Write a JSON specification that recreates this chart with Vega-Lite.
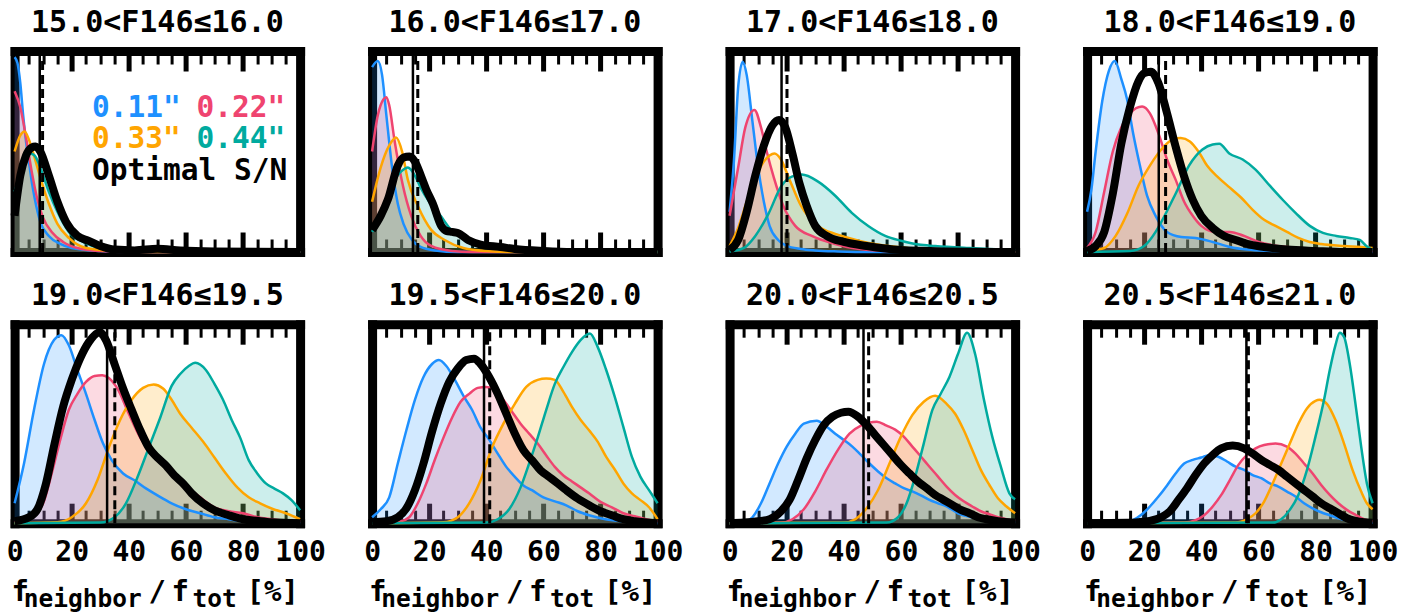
{
"$schema": "https://vega.github.io/schema/vega-lite/v6.json",
"padding": {"left": 5.6, "top": 7, "right": 5, "bottom": 5},
"columns": 4,
"spacing": {"row": 72.2, "column": 71.5},
"bounds": "flush",
"datasets": {
"stats": [
{"panel":1,"stat":"median","x":8.8},{"panel":1,"stat":"mean","x":9.8},
{"panel":2,"stat":"median","x":14.3},{"panel":2,"stat":"mean","x":16.0},
{"panel":3,"stat":"median","x":18.2},{"panel":3,"stat":"mean","x":20.1},
{"panel":4,"stat":"median","x":25.1},{"panel":4,"stat":"mean","x":27.5},
{"panel":5,"stat":"median","x":32.4},{"panel":5,"stat":"mean","x":35.1},
{"panel":6,"stat":"median","x":39.2},{"panel":6,"stat":"mean","x":41.2},
{"panel":7,"stat":"median","x":46.9},{"panel":7,"stat":"mean","x":48.7},
{"panel":8,"stat":"median","x":55.8},{"panel":8,"stat":"mean","x":56.5}
],
"kde": [
{"panel":1,"series":"0.11\"","x":0,"y":0.97},{"panel":1,"series":"0.11\"","x":1,"y":0.94},{"panel":1,"series":"0.11\"","x":2,"y":0.84},{"panel":1,"series":"0.11\"","x":3,"y":0.68},{"panel":1,"series":"0.11\"","x":4,"y":0.55},{"panel":1,"series":"0.11\"","x":5,"y":0.45},{"panel":1,"series":"0.11\"","x":6,"y":0.35},{"panel":1,"series":"0.11\"","x":7,"y":0.27},{"panel":1,"series":"0.11\"","x":9,"y":0.15},{"panel":1,"series":"0.11\"","x":12,"y":0.08},{"panel":1,"series":"0.11\"","x":16,"y":0.04},{"panel":1,"series":"0.11\"","x":20,"y":0.02},{"panel":1,"series":"0.11\"","x":30,"y":0.005},{"panel":1,"series":"0.11\"","x":40,"y":0},{"panel":1,"series":"0.11\"","x":100,"y":0},
{"panel":1,"series":"0.22\"","x":0,"y":0.8},{"panel":1,"series":"0.22\"","x":2,"y":0.72},{"panel":1,"series":"0.22\"","x":4,"y":0.57},{"panel":1,"series":"0.22\"","x":6,"y":0.4},{"panel":1,"series":"0.22\"","x":8,"y":0.26},{"panel":1,"series":"0.22\"","x":10,"y":0.17},{"panel":1,"series":"0.22\"","x":13,"y":0.1},{"panel":1,"series":"0.22\"","x":17,"y":0.05},{"panel":1,"series":"0.22\"","x":22,"y":0.02},{"panel":1,"series":"0.22\"","x":30,"y":0.005},{"panel":1,"series":"0.22\"","x":40,"y":0},{"panel":1,"series":"0.22\"","x":100,"y":0},
{"panel":1,"series":"0.33\"","x":0,"y":0.5},{"panel":1,"series":"0.33\"","x":2,"y":0.58},{"panel":1,"series":"0.33\"","x":3.5,"y":0.6},{"panel":1,"series":"0.33\"","x":5,"y":0.56},{"panel":1,"series":"0.33\"","x":7,"y":0.47},{"panel":1,"series":"0.33\"","x":9,"y":0.37},{"panel":1,"series":"0.33\"","x":12,"y":0.24},{"panel":1,"series":"0.33\"","x":15,"y":0.14},{"panel":1,"series":"0.33\"","x":19,"y":0.07},{"panel":1,"series":"0.33\"","x":25,"y":0.02},{"panel":1,"series":"0.33\"","x":35,"y":0.005},{"panel":1,"series":"0.33\"","x":45,"y":0},{"panel":1,"series":"0.33\"","x":100,"y":0},
{"panel":1,"series":"0.44\"","x":0,"y":0.3},{"panel":1,"series":"0.44\"","x":3,"y":0.42},{"panel":1,"series":"0.44\"","x":5.5,"y":0.49},{"panel":1,"series":"0.44\"","x":7,"y":0.48},{"panel":1,"series":"0.44\"","x":9,"y":0.42},{"panel":1,"series":"0.44\"","x":12,"y":0.3},{"panel":1,"series":"0.44\"","x":15,"y":0.2},{"panel":1,"series":"0.44\"","x":19,"y":0.1},{"panel":1,"series":"0.44\"","x":24,"y":0.05},{"panel":1,"series":"0.44\"","x":30,"y":0.02},{"panel":1,"series":"0.44\"","x":40,"y":0.006},{"panel":1,"series":"0.44\"","x":46,"y":0.008},{"panel":1,"series":"0.44\"","x":50,"y":0.012},{"panel":1,"series":"0.44\"","x":55,"y":0.008},{"panel":1,"series":"0.44\"","x":62,"y":0.002},{"panel":1,"series":"0.44\"","x":70,"y":0},{"panel":1,"series":"0.44\"","x":100,"y":0},
{"panel":1,"series":"Optimal S/N","x":0,"y":0.18},{"panel":1,"series":"Optimal S/N","x":2,"y":0.38},{"panel":1,"series":"Optimal S/N","x":4,"y":0.48},{"panel":1,"series":"Optimal S/N","x":6,"y":0.52},{"panel":1,"series":"Optimal S/N","x":7.3,"y":0.525},{"panel":1,"series":"Optimal S/N","x":9,"y":0.5},{"panel":1,"series":"Optimal S/N","x":12,"y":0.38},{"panel":1,"series":"Optimal S/N","x":15,"y":0.25},{"panel":1,"series":"Optimal S/N","x":18,"y":0.15},{"panel":1,"series":"Optimal S/N","x":22,"y":0.08},{"panel":1,"series":"Optimal S/N","x":26,"y":0.055},{"panel":1,"series":"Optimal S/N","x":30,"y":0.03},{"panel":1,"series":"Optimal S/N","x":35,"y":0.012},{"panel":1,"series":"Optimal S/N","x":42,"y":0.008},{"panel":1,"series":"Optimal S/N","x":50,"y":0.016},{"panel":1,"series":"Optimal S/N","x":58,"y":0.008},{"panel":1,"series":"Optimal S/N","x":70,"y":0.003},{"panel":1,"series":"Optimal S/N","x":100,"y":0},
{"panel":2,"series":"0.11\"","x":0,"y":0.92},{"panel":2,"series":"0.11\"","x":2,"y":0.95},{"panel":2,"series":"0.11\"","x":3.5,"y":0.88},{"panel":2,"series":"0.11\"","x":5,"y":0.68},{"panel":2,"series":"0.11\"","x":7,"y":0.42},{"panel":2,"series":"0.11\"","x":9,"y":0.24},{"panel":2,"series":"0.11\"","x":11,"y":0.14},{"panel":2,"series":"0.11\"","x":14,"y":0.06},{"panel":2,"series":"0.11\"","x":17,"y":0.025},{"panel":2,"series":"0.11\"","x":22,"y":0.008},{"panel":2,"series":"0.11\"","x":30,"y":0},{"panel":2,"series":"0.11\"","x":100,"y":0},
{"panel":2,"series":"0.22\"","x":0,"y":0.5},{"panel":2,"series":"0.22\"","x":2,"y":0.68},{"panel":2,"series":"0.22\"","x":4,"y":0.76},{"panel":2,"series":"0.22\"","x":5,"y":0.77},{"panel":2,"series":"0.22\"","x":6,"y":0.73},{"panel":2,"series":"0.22\"","x":7.8,"y":0.56},{"panel":2,"series":"0.22\"","x":10.8,"y":0.33},{"panel":2,"series":"0.22\"","x":13.7,"y":0.18},{"panel":2,"series":"0.22\"","x":17,"y":0.08},{"panel":2,"series":"0.22\"","x":20.7,"y":0.03},{"panel":2,"series":"0.22\"","x":28,"y":0.005},{"panel":2,"series":"0.22\"","x":35,"y":0},{"panel":2,"series":"0.22\"","x":100,"y":0},
{"panel":2,"series":"0.33\"","x":0,"y":0.25},{"panel":2,"series":"0.33\"","x":3,"y":0.42},{"panel":2,"series":"0.33\"","x":6,"y":0.53},{"panel":2,"series":"0.33\"","x":8.4,"y":0.57},{"panel":2,"series":"0.33\"","x":10.5,"y":0.5},{"panel":2,"series":"0.33\"","x":12.5,"y":0.36},{"panel":2,"series":"0.33\"","x":16,"y":0.23},{"panel":2,"series":"0.33\"","x":20.7,"y":0.11},{"panel":2,"series":"0.33\"","x":25.4,"y":0.06},{"panel":2,"series":"0.33\"","x":32,"y":0.02},{"panel":2,"series":"0.33\"","x":40,"y":0.005},{"panel":2,"series":"0.33\"","x":50,"y":0},{"panel":2,"series":"0.33\"","x":100,"y":0},
{"panel":2,"series":"0.44\"","x":0,"y":0.1},{"panel":2,"series":"0.44\"","x":4,"y":0.22},{"panel":2,"series":"0.44\"","x":8,"y":0.36},{"panel":2,"series":"0.44\"","x":11,"y":0.41},{"panel":2,"series":"0.44\"","x":12.5,"y":0.42},{"panel":2,"series":"0.44\"","x":15,"y":0.38},{"panel":2,"series":"0.44\"","x":17,"y":0.32},{"panel":2,"series":"0.44\"","x":20,"y":0.25},{"panel":2,"series":"0.44\"","x":24,"y":0.18},{"panel":2,"series":"0.44\"","x":27.7,"y":0.11},{"panel":2,"series":"0.44\"","x":32,"y":0.07},{"panel":2,"series":"0.44\"","x":36,"y":0.045},{"panel":2,"series":"0.44\"","x":42,"y":0.03},{"panel":2,"series":"0.44\"","x":47.6,"y":0.015},{"panel":2,"series":"0.44\"","x":55,"y":0.005},{"panel":2,"series":"0.44\"","x":65,"y":0},{"panel":2,"series":"0.44\"","x":100,"y":0},
{"panel":2,"series":"Optimal S/N","x":0,"y":0.11},{"panel":2,"series":"Optimal S/N","x":3,"y":0.18},{"panel":2,"series":"Optimal S/N","x":5.5,"y":0.26},{"panel":2,"series":"Optimal S/N","x":9,"y":0.43},{"panel":2,"series":"Optimal S/N","x":11,"y":0.47},{"panel":2,"series":"Optimal S/N","x":13.1,"y":0.475},{"panel":2,"series":"Optimal S/N","x":15,"y":0.45},{"panel":2,"series":"Optimal S/N","x":17.2,"y":0.376},{"panel":2,"series":"Optimal S/N","x":19,"y":0.31},{"panel":2,"series":"Optimal S/N","x":21.3,"y":0.24},{"panel":2,"series":"Optimal S/N","x":24.2,"y":0.13},{"panel":2,"series":"Optimal S/N","x":26,"y":0.105},{"panel":2,"series":"Optimal S/N","x":28,"y":0.1},{"panel":2,"series":"Optimal S/N","x":30,"y":0.095},{"panel":2,"series":"Optimal S/N","x":33.6,"y":0.06},{"panel":2,"series":"Optimal S/N","x":38,"y":0.037},{"panel":2,"series":"Optimal S/N","x":45,"y":0.025},{"panel":2,"series":"Optimal S/N","x":50,"y":0.015},{"panel":2,"series":"Optimal S/N","x":60,"y":0.005},{"panel":2,"series":"Optimal S/N","x":70,"y":0},{"panel":2,"series":"Optimal S/N","x":100,"y":0},
{"panel":3,"series":"0.11\"","x":0,"y":0.2},{"panel":3,"series":"0.11\"","x":1.5,"y":0.45},{"panel":3,"series":"0.11\"","x":3,"y":0.82},{"panel":3,"series":"0.11\"","x":4.6,"y":0.947},{"panel":3,"series":"0.11\"","x":6,"y":0.88},{"panel":3,"series":"0.11\"","x":8,"y":0.65},{"panel":3,"series":"0.11\"","x":10,"y":0.42},{"panel":3,"series":"0.11\"","x":12,"y":0.25},{"panel":3,"series":"0.11\"","x":14,"y":0.13},{"panel":3,"series":"0.11\"","x":17,"y":0.06},{"panel":3,"series":"0.11\"","x":20,"y":0.03},{"panel":3,"series":"0.11\"","x":25,"y":0.015},{"panel":3,"series":"0.11\"","x":30,"y":0.008},{"panel":3,"series":"0.11\"","x":38,"y":0.003},{"panel":3,"series":"0.11\"","x":50,"y":0},{"panel":3,"series":"0.11\"","x":100,"y":0},
{"panel":3,"series":"0.22\"","x":0,"y":0.18},{"panel":3,"series":"0.22\"","x":3,"y":0.42},{"panel":3,"series":"0.22\"","x":5.5,"y":0.62},{"panel":3,"series":"0.22\"","x":8.7,"y":0.707},{"panel":3,"series":"0.22\"","x":11,"y":0.62},{"panel":3,"series":"0.22\"","x":13,"y":0.5},{"panel":3,"series":"0.22\"","x":15.5,"y":0.37},{"panel":3,"series":"0.22\"","x":18.8,"y":0.23},{"panel":3,"series":"0.22\"","x":23,"y":0.13},{"panel":3,"series":"0.22\"","x":28.8,"y":0.08},{"panel":3,"series":"0.22\"","x":37,"y":0.04},{"panel":3,"series":"0.22\"","x":43,"y":0.02},{"panel":3,"series":"0.22\"","x":55,"y":0.005},{"panel":3,"series":"0.22\"","x":65,"y":0},{"panel":3,"series":"0.22\"","x":100,"y":0},
{"panel":3,"series":"0.33\"","x":0,"y":0.03},{"panel":3,"series":"0.33\"","x":3,"y":0.12},{"panel":3,"series":"0.33\"","x":6,"y":0.25},{"panel":3,"series":"0.33\"","x":9,"y":0.37},{"panel":3,"series":"0.33\"","x":12,"y":0.45},{"panel":3,"series":"0.33\"","x":14,"y":0.48},{"panel":3,"series":"0.33\"","x":15.7,"y":0.49},{"panel":3,"series":"0.33\"","x":18,"y":0.46},{"panel":3,"series":"0.33\"","x":21,"y":0.36},{"panel":3,"series":"0.33\"","x":25,"y":0.23},{"panel":3,"series":"0.33\"","x":31,"y":0.13},{"panel":3,"series":"0.33\"","x":37,"y":0.09},{"panel":3,"series":"0.33\"","x":40.5,"y":0.075},{"panel":3,"series":"0.33\"","x":48.7,"y":0.045},{"panel":3,"series":"0.33\"","x":55.7,"y":0.03},{"panel":3,"series":"0.33\"","x":66,"y":0.015},{"panel":3,"series":"0.33\"","x":80,"y":0.005},{"panel":3,"series":"0.33\"","x":100,"y":0},
{"panel":3,"series":"0.44\"","x":0,"y":0.002},{"panel":3,"series":"0.44\"","x":5,"y":0.02},{"panel":3,"series":"0.44\"","x":9,"y":0.08},{"panel":3,"series":"0.44\"","x":13.6,"y":0.19},{"panel":3,"series":"0.44\"","x":18.2,"y":0.33},{"panel":3,"series":"0.44\"","x":21.8,"y":0.375},{"panel":3,"series":"0.44\"","x":25.3,"y":0.385},{"panel":3,"series":"0.44\"","x":31,"y":0.35},{"panel":3,"series":"0.44\"","x":37,"y":0.28},{"panel":3,"series":"0.44\"","x":42.8,"y":0.195},{"panel":3,"series":"0.44\"","x":48.7,"y":0.128},{"panel":3,"series":"0.44\"","x":54.5,"y":0.08},{"panel":3,"series":"0.44\"","x":60.4,"y":0.055},{"panel":3,"series":"0.44\"","x":66.2,"y":0.037},{"panel":3,"series":"0.44\"","x":72,"y":0.03},{"panel":3,"series":"0.44\"","x":83.7,"y":0.02},{"panel":3,"series":"0.44\"","x":95.4,"y":0.012},{"panel":3,"series":"0.44\"","x":100,"y":0.01},
{"panel":3,"series":"Optimal S/N","x":0,"y":0.01},{"panel":3,"series":"Optimal S/N","x":3,"y":0.06},{"panel":3,"series":"Optimal S/N","x":6,"y":0.2},{"panel":3,"series":"Optimal S/N","x":9,"y":0.38},{"panel":3,"series":"Optimal S/N","x":12,"y":0.53},{"panel":3,"series":"Optimal S/N","x":15,"y":0.63},{"panel":3,"series":"Optimal S/N","x":17.3,"y":0.657},{"panel":3,"series":"Optimal S/N","x":19.5,"y":0.62},{"panel":3,"series":"Optimal S/N","x":22,"y":0.49},{"panel":3,"series":"Optimal S/N","x":24.5,"y":0.34},{"panel":3,"series":"Optimal S/N","x":27,"y":0.23},{"panel":3,"series":"Optimal S/N","x":30,"y":0.13},{"panel":3,"series":"Optimal S/N","x":34,"y":0.08},{"panel":3,"series":"Optimal S/N","x":40,"y":0.05},{"panel":3,"series":"Optimal S/N","x":48,"y":0.03},{"panel":3,"series":"Optimal S/N","x":60,"y":0.01},{"panel":3,"series":"Optimal S/N","x":75,"y":0.003},{"panel":3,"series":"Optimal S/N","x":100,"y":0},
{"panel":4,"series":"0.11\"","x":0,"y":0.2},{"panel":4,"series":"0.11\"","x":1.5,"y":0.31},{"panel":4,"series":"0.11\"","x":3,"y":0.5},{"panel":4,"series":"0.11\"","x":5.3,"y":0.75},{"panel":4,"series":"0.11\"","x":7.6,"y":0.9},{"panel":4,"series":"0.11\"","x":9.7,"y":0.95},{"panel":4,"series":"0.11\"","x":12,"y":0.86},{"panel":4,"series":"0.11\"","x":14,"y":0.76},{"panel":4,"series":"0.11\"","x":16,"y":0.6},{"panel":4,"series":"0.11\"","x":18.5,"y":0.43},{"panel":4,"series":"0.11\"","x":21,"y":0.28},{"panel":4,"series":"0.11\"","x":24,"y":0.18},{"panel":4,"series":"0.11\"","x":28,"y":0.1},{"panel":4,"series":"0.11\"","x":33,"y":0.075},{"panel":4,"series":"0.11\"","x":38,"y":0.07},{"panel":4,"series":"0.11\"","x":44,"y":0.05},{"panel":4,"series":"0.11\"","x":50,"y":0.025},{"panel":4,"series":"0.11\"","x":56,"y":0.012},{"panel":4,"series":"0.11\"","x":65,"y":0.005},{"panel":4,"series":"0.11\"","x":80,"y":0},{"panel":4,"series":"0.11\"","x":100,"y":0},
{"panel":4,"series":"0.22\"","x":0,"y":0.02},{"panel":4,"series":"0.22\"","x":3,"y":0.1},{"panel":4,"series":"0.22\"","x":6,"y":0.3},{"panel":4,"series":"0.22\"","x":9,"y":0.5},{"panel":4,"series":"0.22\"","x":12,"y":0.62},{"panel":4,"series":"0.22\"","x":15,"y":0.69},{"panel":4,"series":"0.22\"","x":19.3,"y":0.724},{"panel":4,"series":"0.22\"","x":22,"y":0.69},{"panel":4,"series":"0.22\"","x":25,"y":0.59},{"panel":4,"series":"0.22\"","x":28,"y":0.46},{"panel":4,"series":"0.22\"","x":31,"y":0.36},{"panel":4,"series":"0.22\"","x":34,"y":0.25},{"panel":4,"series":"0.22\"","x":37,"y":0.18},{"panel":4,"series":"0.22\"","x":40,"y":0.13},{"panel":4,"series":"0.22\"","x":45,"y":0.1},{"panel":4,"series":"0.22\"","x":50,"y":0.1},{"panel":4,"series":"0.22\"","x":55,"y":0.08},{"panel":4,"series":"0.22\"","x":60,"y":0.05},{"panel":4,"series":"0.22\"","x":70,"y":0.025},{"panel":4,"series":"0.22\"","x":80,"y":0.015},{"panel":4,"series":"0.22\"","x":90,"y":0.01},{"panel":4,"series":"0.22\"","x":100,"y":0.005},
{"panel":4,"series":"0.33\"","x":0,"y":0.005},{"panel":4,"series":"0.33\"","x":6,"y":0.02},{"panel":4,"series":"0.33\"","x":10,"y":0.08},{"panel":4,"series":"0.33\"","x":14,"y":0.19},{"panel":4,"series":"0.33\"","x":18,"y":0.33},{"panel":4,"series":"0.33\"","x":22,"y":0.43},{"panel":4,"series":"0.33\"","x":26,"y":0.51},{"panel":4,"series":"0.33\"","x":30,"y":0.56},{"panel":4,"series":"0.33\"","x":32.8,"y":0.567},{"panel":4,"series":"0.33\"","x":36,"y":0.55},{"panel":4,"series":"0.33\"","x":39,"y":0.5},{"panel":4,"series":"0.33\"","x":42,"y":0.43},{"panel":4,"series":"0.33\"","x":46,"y":0.37},{"panel":4,"series":"0.33\"","x":50,"y":0.32},{"panel":4,"series":"0.33\"","x":54,"y":0.27},{"panel":4,"series":"0.33\"","x":58,"y":0.21},{"panel":4,"series":"0.33\"","x":62,"y":0.16},{"panel":4,"series":"0.33\"","x":66,"y":0.13},{"panel":4,"series":"0.33\"","x":70,"y":0.1},{"panel":4,"series":"0.33\"","x":74,"y":0.07},{"panel":4,"series":"0.33\"","x":78,"y":0.05},{"panel":4,"series":"0.33\"","x":82,"y":0.04},{"panel":4,"series":"0.33\"","x":90,"y":0.03},{"panel":4,"series":"0.33\"","x":96,"y":0.025},{"panel":4,"series":"0.33\"","x":100,"y":0.02},
{"panel":4,"series":"0.44\"","x":0,"y":0},{"panel":4,"series":"0.44\"","x":15,"y":0.005},{"panel":4,"series":"0.44\"","x":20,"y":0.03},{"panel":4,"series":"0.44\"","x":24,"y":0.1},{"panel":4,"series":"0.44\"","x":26.4,"y":0.16},{"panel":4,"series":"0.44\"","x":31,"y":0.29},{"panel":4,"series":"0.44\"","x":35.7,"y":0.43},{"panel":4,"series":"0.44\"","x":40.4,"y":0.51},{"panel":4,"series":"0.44\"","x":44,"y":0.535},{"panel":4,"series":"0.44\"","x":46.3,"y":0.538},{"panel":4,"series":"0.44\"","x":49.8,"y":0.49},{"panel":4,"series":"0.44\"","x":54.5,"y":0.46},{"panel":4,"series":"0.44\"","x":59,"y":0.41},{"panel":4,"series":"0.44\"","x":64,"y":0.33},{"panel":4,"series":"0.44\"","x":68.5,"y":0.26},{"panel":4,"series":"0.44\"","x":73,"y":0.195},{"panel":4,"series":"0.44\"","x":78,"y":0.13},{"panel":4,"series":"0.44\"","x":82.6,"y":0.095},{"panel":4,"series":"0.44\"","x":87.3,"y":0.08},{"panel":4,"series":"0.44\"","x":92,"y":0.07},{"panel":4,"series":"0.44\"","x":95.5,"y":0.06},{"panel":4,"series":"0.44\"","x":97.8,"y":0.03},{"panel":4,"series":"0.44\"","x":100,"y":0.01},
{"panel":4,"series":"Optimal S/N","x":0,"y":0.005},{"panel":4,"series":"Optimal S/N","x":3,"y":0.03},{"panel":4,"series":"Optimal S/N","x":6,"y":0.1},{"panel":4,"series":"Optimal S/N","x":9,"y":0.29},{"panel":4,"series":"Optimal S/N","x":12,"y":0.54},{"panel":4,"series":"Optimal S/N","x":15,"y":0.72},{"panel":4,"series":"Optimal S/N","x":18,"y":0.85},{"panel":4,"series":"Optimal S/N","x":20,"y":0.89},{"panel":4,"series":"Optimal S/N","x":22.3,"y":0.897},{"panel":4,"series":"Optimal S/N","x":25,"y":0.84},{"panel":4,"series":"Optimal S/N","x":28,"y":0.69},{"panel":4,"series":"Optimal S/N","x":31,"y":0.525},{"panel":4,"series":"Optimal S/N","x":34,"y":0.376},{"panel":4,"series":"Optimal S/N","x":37,"y":0.26},{"panel":4,"series":"Optimal S/N","x":40,"y":0.18},{"panel":4,"series":"Optimal S/N","x":44,"y":0.12},{"panel":4,"series":"Optimal S/N","x":48,"y":0.08},{"panel":4,"series":"Optimal S/N","x":52,"y":0.06},{"panel":4,"series":"Optimal S/N","x":56,"y":0.04},{"panel":4,"series":"Optimal S/N","x":62,"y":0.025},{"panel":4,"series":"Optimal S/N","x":70,"y":0.012},{"panel":4,"series":"Optimal S/N","x":80,"y":0.005},{"panel":4,"series":"Optimal S/N","x":90,"y":0},{"panel":4,"series":"Optimal S/N","x":100,"y":0},
{"panel":5,"series":"0.11\"","x":0,"y":0.1},{"panel":5,"series":"0.11\"","x":3.3,"y":0.3},{"panel":5,"series":"0.11\"","x":6.8,"y":0.57},{"panel":5,"series":"0.11\"","x":10.3,"y":0.8},{"panel":5,"series":"0.11\"","x":13.8,"y":0.92},{"panel":5,"series":"0.11\"","x":16.4,"y":0.945},{"panel":5,"series":"0.11\"","x":19,"y":0.894},{"panel":5,"series":"0.11\"","x":22,"y":0.77},{"panel":5,"series":"0.11\"","x":25,"y":0.65},{"panel":5,"series":"0.11\"","x":28,"y":0.52},{"panel":5,"series":"0.11\"","x":31,"y":0.4},{"panel":5,"series":"0.11\"","x":34,"y":0.317},{"panel":5,"series":"0.11\"","x":38,"y":0.25},{"panel":5,"series":"0.11\"","x":42,"y":0.216},{"panel":5,"series":"0.11\"","x":46,"y":0.175},{"panel":5,"series":"0.11\"","x":50,"y":0.14},{"panel":5,"series":"0.11\"","x":55,"y":0.1},{"panel":5,"series":"0.11\"","x":60,"y":0.07},{"panel":5,"series":"0.11\"","x":65,"y":0.05},{"panel":5,"series":"0.11\"","x":70,"y":0.03},{"panel":5,"series":"0.11\"","x":75,"y":0.02},{"panel":5,"series":"0.11\"","x":80,"y":0.01},{"panel":5,"series":"0.11\"","x":90,"y":0.003},{"panel":5,"series":"0.11\"","x":100,"y":0},
{"panel":5,"series":"0.22\"","x":0,"y":0.003},{"panel":5,"series":"0.22\"","x":5,"y":0.02},{"panel":5,"series":"0.22\"","x":10,"y":0.1},{"panel":5,"series":"0.22\"","x":13,"y":0.25},{"panel":5,"series":"0.22\"","x":16,"y":0.42},{"panel":5,"series":"0.22\"","x":19,"y":0.57},{"panel":5,"series":"0.22\"","x":22,"y":0.65},{"panel":5,"series":"0.22\"","x":25,"y":0.71},{"panel":5,"series":"0.22\"","x":28,"y":0.74},{"panel":5,"series":"0.22\"","x":30.7,"y":0.744},{"panel":5,"series":"0.22\"","x":33,"y":0.73},{"panel":5,"series":"0.22\"","x":36,"y":0.677},{"panel":5,"series":"0.22\"","x":40,"y":0.55},{"panel":5,"series":"0.22\"","x":44,"y":0.43},{"panel":5,"series":"0.22\"","x":48,"y":0.35},{"panel":5,"series":"0.22\"","x":52,"y":0.3},{"panel":5,"series":"0.22\"","x":56,"y":0.25},{"panel":5,"series":"0.22\"","x":60,"y":0.19},{"panel":5,"series":"0.22\"","x":65,"y":0.13},{"panel":5,"series":"0.22\"","x":70,"y":0.08},{"panel":5,"series":"0.22\"","x":75,"y":0.06},{"panel":5,"series":"0.22\"","x":80,"y":0.05},{"panel":5,"series":"0.22\"","x":85,"y":0.03},{"panel":5,"series":"0.22\"","x":90,"y":0.02},{"panel":5,"series":"0.22\"","x":95,"y":0.012},{"panel":5,"series":"0.22\"","x":100,"y":0.008},
{"panel":5,"series":"0.33\"","x":0,"y":0},{"panel":5,"series":"0.33\"","x":15,"y":0.005},{"panel":5,"series":"0.33\"","x":20,"y":0.03},{"panel":5,"series":"0.33\"","x":25,"y":0.1},{"panel":5,"series":"0.33\"","x":29,"y":0.216},{"panel":5,"series":"0.33\"","x":33,"y":0.38},{"panel":5,"series":"0.33\"","x":37,"y":0.52},{"panel":5,"series":"0.33\"","x":41,"y":0.62},{"panel":5,"series":"0.33\"","x":45,"y":0.68},{"panel":5,"series":"0.33\"","x":48.7,"y":0.697},{"panel":5,"series":"0.33\"","x":52,"y":0.677},{"panel":5,"series":"0.33\"","x":55,"y":0.62},{"panel":5,"series":"0.33\"","x":58,"y":0.55},{"panel":5,"series":"0.33\"","x":62,"y":0.48},{"panel":5,"series":"0.33\"","x":66,"y":0.41},{"panel":5,"series":"0.33\"","x":70,"y":0.33},{"panel":5,"series":"0.33\"","x":74,"y":0.25},{"panel":5,"series":"0.33\"","x":78,"y":0.18},{"panel":5,"series":"0.33\"","x":82,"y":0.13},{"panel":5,"series":"0.33\"","x":86,"y":0.1},{"panel":5,"series":"0.33\"","x":90,"y":0.074},{"panel":5,"series":"0.33\"","x":95,"y":0.05},{"panel":5,"series":"0.33\"","x":100,"y":0.02},
{"panel":5,"series":"0.44\"","x":0,"y":0},{"panel":5,"series":"0.44\"","x":30,"y":0.003},{"panel":5,"series":"0.44\"","x":35,"y":0.03},{"panel":5,"series":"0.44\"","x":39,"y":0.1},{"panel":5,"series":"0.44\"","x":43,"y":0.23},{"panel":5,"series":"0.44\"","x":47,"y":0.38},{"panel":5,"series":"0.44\"","x":51,"y":0.53},{"panel":5,"series":"0.44\"","x":55,"y":0.69},{"panel":5,"series":"0.44\"","x":58,"y":0.75},{"panel":5,"series":"0.44\"","x":61,"y":0.79},{"panel":5,"series":"0.44\"","x":63.3,"y":0.806},{"panel":5,"series":"0.44\"","x":67,"y":0.77},{"panel":5,"series":"0.44\"","x":70,"y":0.7},{"panel":5,"series":"0.44\"","x":73,"y":0.62},{"panel":5,"series":"0.44\"","x":76,"y":0.52},{"panel":5,"series":"0.44\"","x":79,"y":0.43},{"panel":5,"series":"0.44\"","x":82,"y":0.317},{"panel":5,"series":"0.44\"","x":85,"y":0.25},{"panel":5,"series":"0.44\"","x":88,"y":0.2},{"panel":5,"series":"0.44\"","x":91,"y":0.174},{"panel":5,"series":"0.44\"","x":94,"y":0.15},{"panel":5,"series":"0.44\"","x":97,"y":0.116},{"panel":5,"series":"0.44\"","x":100,"y":0.065},
{"panel":5,"series":"Optimal S/N","x":0,"y":0.01},{"panel":5,"series":"Optimal S/N","x":5,"y":0.03},{"panel":5,"series":"Optimal S/N","x":8,"y":0.07},{"panel":5,"series":"Optimal S/N","x":11,"y":0.2},{"panel":5,"series":"Optimal S/N","x":14,"y":0.4},{"panel":5,"series":"Optimal S/N","x":17,"y":0.585},{"panel":5,"series":"Optimal S/N","x":20,"y":0.72},{"panel":5,"series":"Optimal S/N","x":23,"y":0.83},{"panel":5,"series":"Optimal S/N","x":26,"y":0.91},{"panel":5,"series":"Optimal S/N","x":29.8,"y":0.96},{"panel":5,"series":"Optimal S/N","x":32,"y":0.92},{"panel":5,"series":"Optimal S/N","x":35,"y":0.8},{"panel":5,"series":"Optimal S/N","x":38,"y":0.677},{"panel":5,"series":"Optimal S/N","x":41,"y":0.57},{"panel":5,"series":"Optimal S/N","x":44,"y":0.467},{"panel":5,"series":"Optimal S/N","x":47,"y":0.38},{"panel":5,"series":"Optimal S/N","x":50,"y":0.33},{"panel":5,"series":"Optimal S/N","x":53,"y":0.29},{"panel":5,"series":"Optimal S/N","x":56,"y":0.24},{"panel":5,"series":"Optimal S/N","x":59,"y":0.2},{"panel":5,"series":"Optimal S/N","x":62,"y":0.15},{"panel":5,"series":"Optimal S/N","x":66,"y":0.1},{"panel":5,"series":"Optimal S/N","x":70,"y":0.065},{"panel":5,"series":"Optimal S/N","x":75,"y":0.04},{"panel":5,"series":"Optimal S/N","x":80,"y":0.02},{"panel":5,"series":"Optimal S/N","x":85,"y":0.012},{"panel":5,"series":"Optimal S/N","x":90,"y":0.005},{"panel":5,"series":"Optimal S/N","x":100,"y":0},
{"panel":6,"series":"0.11\"","x":0,"y":0.03},{"panel":6,"series":"0.11\"","x":3,"y":0.07},{"panel":6,"series":"0.11\"","x":6,"y":0.13},{"panel":6,"series":"0.11\"","x":9,"y":0.3},{"panel":6,"series":"0.11\"","x":12,"y":0.467},{"panel":6,"series":"0.11\"","x":15,"y":0.62},{"panel":6,"series":"0.11\"","x":18,"y":0.735},{"panel":6,"series":"0.11\"","x":21,"y":0.8},{"panel":6,"series":"0.11\"","x":23.4,"y":0.82},{"panel":6,"series":"0.11\"","x":26,"y":0.79},{"panel":6,"series":"0.11\"","x":29,"y":0.72},{"panel":6,"series":"0.11\"","x":32,"y":0.64},{"panel":6,"series":"0.11\"","x":35,"y":0.57},{"panel":6,"series":"0.11\"","x":38,"y":0.48},{"panel":6,"series":"0.11\"","x":41,"y":0.42},{"panel":6,"series":"0.11\"","x":44,"y":0.35},{"panel":6,"series":"0.11\"","x":47,"y":0.283},{"panel":6,"series":"0.11\"","x":50,"y":0.233},{"panel":6,"series":"0.11\"","x":53,"y":0.19},{"panel":6,"series":"0.11\"","x":56,"y":0.166},{"panel":6,"series":"0.11\"","x":60,"y":0.13},{"panel":6,"series":"0.11\"","x":64,"y":0.11},{"panel":6,"series":"0.11\"","x":68,"y":0.09},{"panel":6,"series":"0.11\"","x":72,"y":0.06},{"panel":6,"series":"0.11\"","x":76,"y":0.04},{"panel":6,"series":"0.11\"","x":80,"y":0.025},{"panel":6,"series":"0.11\"","x":85,"y":0.013},{"panel":6,"series":"0.11\"","x":90,"y":0.006},{"panel":6,"series":"0.11\"","x":100,"y":0},
{"panel":6,"series":"0.22\"","x":0,"y":0},{"panel":6,"series":"0.22\"","x":10,"y":0.01},{"panel":6,"series":"0.22\"","x":13,"y":0.03},{"panel":6,"series":"0.22\"","x":16,"y":0.1},{"panel":6,"series":"0.22\"","x":19,"y":0.2},{"panel":6,"series":"0.22\"","x":22,"y":0.32},{"panel":6,"series":"0.22\"","x":25,"y":0.43},{"panel":6,"series":"0.22\"","x":28,"y":0.53},{"panel":6,"series":"0.22\"","x":31,"y":0.61},{"panel":6,"series":"0.22\"","x":34,"y":0.65},{"panel":6,"series":"0.22\"","x":37,"y":0.68},{"panel":6,"series":"0.22\"","x":40,"y":0.685},{"panel":6,"series":"0.22\"","x":43,"y":0.67},{"panel":6,"series":"0.22\"","x":46,"y":0.62},{"panel":6,"series":"0.22\"","x":49,"y":0.56},{"panel":6,"series":"0.22\"","x":52,"y":0.5},{"panel":6,"series":"0.22\"","x":55,"y":0.45},{"panel":6,"series":"0.22\"","x":58,"y":0.4},{"panel":6,"series":"0.22\"","x":61,"y":0.34},{"panel":6,"series":"0.22\"","x":64,"y":0.283},{"panel":6,"series":"0.22\"","x":67,"y":0.24},{"panel":6,"series":"0.22\"","x":70,"y":0.21},{"panel":6,"series":"0.22\"","x":73,"y":0.18},{"panel":6,"series":"0.22\"","x":76,"y":0.15},{"panel":6,"series":"0.22\"","x":80,"y":0.107},{"panel":6,"series":"0.22\"","x":84,"y":0.08},{"panel":6,"series":"0.22\"","x":88,"y":0.05},{"panel":6,"series":"0.22\"","x":92,"y":0.035},{"panel":6,"series":"0.22\"","x":96,"y":0.02},{"panel":6,"series":"0.22\"","x":100,"y":0.01},
{"panel":6,"series":"0.33\"","x":0,"y":0},{"panel":6,"series":"0.33\"","x":25,"y":0.005},{"panel":6,"series":"0.33\"","x":30,"y":0.03},{"panel":6,"series":"0.33\"","x":34,"y":0.1},{"panel":6,"series":"0.33\"","x":38,"y":0.216},{"panel":6,"series":"0.33\"","x":42,"y":0.38},{"panel":6,"series":"0.33\"","x":46,"y":0.5},{"panel":6,"series":"0.33\"","x":50,"y":0.6},{"panel":6,"series":"0.33\"","x":54,"y":0.685},{"panel":6,"series":"0.33\"","x":58,"y":0.72},{"panel":6,"series":"0.33\"","x":61,"y":0.727},{"panel":6,"series":"0.33\"","x":64,"y":0.72},{"panel":6,"series":"0.33\"","x":67,"y":0.66},{"panel":6,"series":"0.33\"","x":70,"y":0.585},{"panel":6,"series":"0.33\"","x":73,"y":0.52},{"panel":6,"series":"0.33\"","x":76,"y":0.467},{"panel":6,"series":"0.33\"","x":79,"y":0.41},{"panel":6,"series":"0.33\"","x":82,"y":0.333},{"panel":6,"series":"0.33\"","x":85,"y":0.27},{"panel":6,"series":"0.33\"","x":88,"y":0.2},{"panel":6,"series":"0.33\"","x":91,"y":0.15},{"panel":6,"series":"0.33\"","x":94,"y":0.116},{"panel":6,"series":"0.33\"","x":97,"y":0.08},{"panel":6,"series":"0.33\"","x":100,"y":0.02},
{"panel":6,"series":"0.44\"","x":0,"y":0},{"panel":6,"series":"0.44\"","x":40,"y":0.003},{"panel":6,"series":"0.44\"","x":44,"y":0.02},{"panel":6,"series":"0.44\"","x":48,"y":0.07},{"panel":6,"series":"0.44\"","x":52,"y":0.18},{"panel":6,"series":"0.44\"","x":55,"y":0.3},{"panel":6,"series":"0.44\"","x":58,"y":0.43},{"panel":6,"series":"0.44\"","x":61,"y":0.57},{"panel":6,"series":"0.44\"","x":64,"y":0.7},{"panel":6,"series":"0.44\"","x":67,"y":0.785},{"panel":6,"series":"0.44\"","x":70,"y":0.86},{"panel":6,"series":"0.44\"","x":73,"y":0.92},{"panel":6,"series":"0.44\"","x":76.3,"y":0.953},{"panel":6,"series":"0.44\"","x":79,"y":0.886},{"panel":6,"series":"0.44\"","x":82,"y":0.77},{"panel":6,"series":"0.44\"","x":85,"y":0.635},{"panel":6,"series":"0.44\"","x":88,"y":0.484},{"panel":6,"series":"0.44\"","x":91,"y":0.333},{"panel":6,"series":"0.44\"","x":94,"y":0.233},{"panel":6,"series":"0.44\"","x":97,"y":0.166},{"panel":6,"series":"0.44\"","x":100,"y":0.1},
{"panel":6,"series":"Optimal S/N","x":0,"y":0.005},{"panel":6,"series":"Optimal S/N","x":5,"y":0.01},{"panel":6,"series":"Optimal S/N","x":9,"y":0.03},{"panel":6,"series":"Optimal S/N","x":12,"y":0.074},{"panel":6,"series":"Optimal S/N","x":15,"y":0.166},{"panel":6,"series":"Optimal S/N","x":18,"y":0.3},{"panel":6,"series":"Optimal S/N","x":21,"y":0.46},{"panel":6,"series":"Optimal S/N","x":24,"y":0.6},{"panel":6,"series":"Optimal S/N","x":27,"y":0.71},{"panel":6,"series":"Optimal S/N","x":30,"y":0.777},{"panel":6,"series":"Optimal S/N","x":33,"y":0.82},{"panel":6,"series":"Optimal S/N","x":35.7,"y":0.827},{"panel":6,"series":"Optimal S/N","x":38,"y":0.8},{"panel":6,"series":"Optimal S/N","x":41,"y":0.735},{"panel":6,"series":"Optimal S/N","x":44,"y":0.65},{"panel":6,"series":"Optimal S/N","x":47,"y":0.55},{"panel":6,"series":"Optimal S/N","x":50,"y":0.45},{"panel":6,"series":"Optimal S/N","x":53,"y":0.367},{"panel":6,"series":"Optimal S/N","x":56,"y":0.317},{"panel":6,"series":"Optimal S/N","x":59,"y":0.266},{"panel":6,"series":"Optimal S/N","x":62,"y":0.233},{"panel":6,"series":"Optimal S/N","x":65,"y":0.2},{"panel":6,"series":"Optimal S/N","x":68,"y":0.166},{"panel":6,"series":"Optimal S/N","x":72,"y":0.124},{"panel":6,"series":"Optimal S/N","x":76,"y":0.09},{"panel":6,"series":"Optimal S/N","x":80,"y":0.06},{"panel":6,"series":"Optimal S/N","x":84,"y":0.04},{"panel":6,"series":"Optimal S/N","x":88,"y":0.02},{"panel":6,"series":"Optimal S/N","x":92,"y":0.01},{"panel":6,"series":"Optimal S/N","x":100,"y":0},
{"panel":7,"series":"0.11\"","x":0,"y":0},{"panel":7,"series":"0.11\"","x":5,"y":0.005},{"panel":7,"series":"0.11\"","x":8,"y":0.03},{"panel":7,"series":"0.11\"","x":11,"y":0.1},{"panel":7,"series":"0.11\"","x":14,"y":0.2},{"panel":7,"series":"0.11\"","x":17,"y":0.3},{"panel":7,"series":"0.11\"","x":20,"y":0.385},{"panel":7,"series":"0.11\"","x":23,"y":0.45},{"panel":7,"series":"0.11\"","x":26,"y":0.5},{"panel":7,"series":"0.11\"","x":30.5,"y":0.515},{"panel":7,"series":"0.11\"","x":34,"y":0.485},{"panel":7,"series":"0.11\"","x":37,"y":0.45},{"panel":7,"series":"0.11\"","x":40,"y":0.418},{"panel":7,"series":"0.11\"","x":43,"y":0.385},{"panel":7,"series":"0.11\"","x":46,"y":0.343},{"panel":7,"series":"0.11\"","x":49,"y":0.3},{"panel":7,"series":"0.11\"","x":52,"y":0.26},{"panel":7,"series":"0.11\"","x":55,"y":0.226},{"panel":7,"series":"0.11\"","x":58,"y":0.2},{"panel":7,"series":"0.11\"","x":61,"y":0.176},{"panel":7,"series":"0.11\"","x":64,"y":0.16},{"panel":7,"series":"0.11\"","x":67,"y":0.14},{"panel":7,"series":"0.11\"","x":70,"y":0.117},{"panel":7,"series":"0.11\"","x":73,"y":0.1},{"panel":7,"series":"0.11\"","x":76,"y":0.084},{"panel":7,"series":"0.11\"","x":80,"y":0.05},{"panel":7,"series":"0.11\"","x":85,"y":0.03},{"panel":7,"series":"0.11\"","x":90,"y":0.015},{"panel":7,"series":"0.11\"","x":95,"y":0.007},{"panel":7,"series":"0.11\"","x":100,"y":0.003},
{"panel":7,"series":"0.22\"","x":0,"y":0},{"panel":7,"series":"0.22\"","x":18,"y":0.003},{"panel":7,"series":"0.22\"","x":22,"y":0.02},{"panel":7,"series":"0.22\"","x":26,"y":0.07},{"panel":7,"series":"0.22\"","x":30,"y":0.16},{"panel":7,"series":"0.22\"","x":34,"y":0.27},{"panel":7,"series":"0.22\"","x":38,"y":0.37},{"panel":7,"series":"0.22\"","x":42,"y":0.45},{"panel":7,"series":"0.22\"","x":46,"y":0.49},{"panel":7,"series":"0.22\"","x":51.6,"y":0.51},{"panel":7,"series":"0.22\"","x":55,"y":0.49},{"panel":7,"series":"0.22\"","x":58,"y":0.47},{"panel":7,"series":"0.22\"","x":61,"y":0.435},{"panel":7,"series":"0.22\"","x":64,"y":0.385},{"panel":7,"series":"0.22\"","x":67,"y":0.335},{"panel":7,"series":"0.22\"","x":70,"y":0.284},{"panel":7,"series":"0.22\"","x":73,"y":0.234},{"panel":7,"series":"0.22\"","x":76,"y":0.184},{"panel":7,"series":"0.22\"","x":79,"y":0.142},{"panel":7,"series":"0.22\"","x":82,"y":0.11},{"panel":7,"series":"0.22\"","x":85,"y":0.084},{"panel":7,"series":"0.22\"","x":88,"y":0.06},{"panel":7,"series":"0.22\"","x":91,"y":0.045},{"panel":7,"series":"0.22\"","x":94,"y":0.03},{"panel":7,"series":"0.22\"","x":97,"y":0.02},{"panel":7,"series":"0.22\"","x":100,"y":0.012},
{"panel":7,"series":"0.33\"","x":0,"y":0},{"panel":7,"series":"0.33\"","x":40,"y":0.003},{"panel":7,"series":"0.33\"","x":44,"y":0.02},{"panel":7,"series":"0.33\"","x":48,"y":0.075},{"panel":7,"series":"0.33\"","x":52,"y":0.167},{"panel":7,"series":"0.33\"","x":56,"y":0.3},{"panel":7,"series":"0.33\"","x":60,"y":0.435},{"panel":7,"series":"0.33\"","x":64,"y":0.543},{"panel":7,"series":"0.33\"","x":68,"y":0.61},{"panel":7,"series":"0.33\"","x":72,"y":0.64},{"panel":7,"series":"0.33\"","x":76,"y":0.6},{"panel":7,"series":"0.33\"","x":79,"y":0.55},{"panel":7,"series":"0.33\"","x":82,"y":0.468},{"panel":7,"series":"0.33\"","x":85,"y":0.368},{"panel":7,"series":"0.33\"","x":88,"y":0.268},{"panel":7,"series":"0.33\"","x":91,"y":0.192},{"panel":7,"series":"0.33\"","x":94,"y":0.125},{"panel":7,"series":"0.33\"","x":97,"y":0.084},{"panel":7,"series":"0.33\"","x":100,"y":0.05},
{"panel":7,"series":"0.44\"","x":0,"y":0},{"panel":7,"series":"0.44\"","x":55,"y":0.003},{"panel":7,"series":"0.44\"","x":59,"y":0.03},{"panel":7,"series":"0.44\"","x":62,"y":0.1},{"panel":7,"series":"0.44\"","x":65,"y":0.234},{"panel":7,"series":"0.44\"","x":68,"y":0.4},{"panel":7,"series":"0.44\"","x":71,"y":0.568},{"panel":7,"series":"0.44\"","x":74,"y":0.652},{"panel":7,"series":"0.44\"","x":77,"y":0.735},{"panel":7,"series":"0.44\"","x":80,"y":0.85},{"panel":7,"series":"0.44\"","x":83.2,"y":0.957},{"panel":7,"series":"0.44\"","x":86,"y":0.85},{"panel":7,"series":"0.44\"","x":89,"y":0.627},{"panel":7,"series":"0.44\"","x":92,"y":0.435},{"panel":7,"series":"0.44\"","x":95,"y":0.284},{"panel":7,"series":"0.44\"","x":98,"y":0.15},{"panel":7,"series":"0.44\"","x":100,"y":0.12},
{"panel":7,"series":"Optimal S/N","x":0,"y":0},{"panel":7,"series":"Optimal S/N","x":5,"y":0.003},{"panel":7,"series":"Optimal S/N","x":10,"y":0.01},{"panel":7,"series":"Optimal S/N","x":14,"y":0.02},{"panel":7,"series":"Optimal S/N","x":18,"y":0.06},{"panel":7,"series":"Optimal S/N","x":21,"y":0.117},{"panel":7,"series":"Optimal S/N","x":24,"y":0.217},{"panel":7,"series":"Optimal S/N","x":27,"y":0.326},{"panel":7,"series":"Optimal S/N","x":30,"y":0.418},{"panel":7,"series":"Optimal S/N","x":33,"y":0.493},{"panel":7,"series":"Optimal S/N","x":36,"y":0.535},{"panel":7,"series":"Optimal S/N","x":39,"y":0.555},{"panel":7,"series":"Optimal S/N","x":41.6,"y":0.56},{"panel":7,"series":"Optimal S/N","x":45,"y":0.535},{"panel":7,"series":"Optimal S/N","x":48,"y":0.493},{"panel":7,"series":"Optimal S/N","x":51,"y":0.443},{"panel":7,"series":"Optimal S/N","x":54,"y":0.393},{"panel":7,"series":"Optimal S/N","x":57,"y":0.343},{"panel":7,"series":"Optimal S/N","x":60,"y":0.293},{"panel":7,"series":"Optimal S/N","x":63,"y":0.25},{"panel":7,"series":"Optimal S/N","x":66,"y":0.209},{"panel":7,"series":"Optimal S/N","x":69,"y":0.176},{"panel":7,"series":"Optimal S/N","x":72,"y":0.142},{"panel":7,"series":"Optimal S/N","x":75,"y":0.117},{"panel":7,"series":"Optimal S/N","x":78,"y":0.092},{"panel":7,"series":"Optimal S/N","x":81,"y":0.067},{"panel":7,"series":"Optimal S/N","x":84,"y":0.05},{"panel":7,"series":"Optimal S/N","x":87,"y":0.03},{"panel":7,"series":"Optimal S/N","x":90,"y":0.02},{"panel":7,"series":"Optimal S/N","x":94,"y":0.01},{"panel":7,"series":"Optimal S/N","x":100,"y":0.003},
{"panel":8,"series":"0.11\"","x":0,"y":0},{"panel":8,"series":"0.11\"","x":12,"y":0.003},{"panel":8,"series":"0.11\"","x":16,"y":0.015},{"panel":8,"series":"0.11\"","x":19,"y":0.042},{"panel":8,"series":"0.11\"","x":22,"y":0.084},{"panel":8,"series":"0.11\"","x":25,"y":0.134},{"panel":8,"series":"0.11\"","x":28,"y":0.19},{"panel":8,"series":"0.11\"","x":31,"y":0.25},{"panel":8,"series":"0.11\"","x":34,"y":0.3},{"panel":8,"series":"0.11\"","x":37,"y":0.318},{"panel":8,"series":"0.11\"","x":40,"y":0.33},{"panel":8,"series":"0.11\"","x":43,"y":0.343},{"panel":8,"series":"0.11\"","x":46,"y":0.334},{"panel":8,"series":"0.11\"","x":49,"y":0.31},{"panel":8,"series":"0.11\"","x":52,"y":0.284},{"panel":8,"series":"0.11\"","x":55,"y":0.268},{"panel":8,"series":"0.11\"","x":58,"y":0.242},{"panel":8,"series":"0.11\"","x":61,"y":0.226},{"panel":8,"series":"0.11\"","x":64,"y":0.2},{"panel":8,"series":"0.11\"","x":67,"y":0.184},{"panel":8,"series":"0.11\"","x":70,"y":0.159},{"panel":8,"series":"0.11\"","x":73,"y":0.134},{"panel":8,"series":"0.11\"","x":76,"y":0.1},{"panel":8,"series":"0.11\"","x":79,"y":0.075},{"panel":8,"series":"0.11\"","x":82,"y":0.055},{"panel":8,"series":"0.11\"","x":85,"y":0.04},{"panel":8,"series":"0.11\"","x":88,"y":0.025},{"panel":8,"series":"0.11\"","x":92,"y":0.012},{"panel":8,"series":"0.11\"","x":96,"y":0.005},{"panel":8,"series":"0.11\"","x":100,"y":0.002},
{"panel":8,"series":"0.22\"","x":0,"y":0},{"panel":8,"series":"0.22\"","x":34,"y":0.003},{"panel":8,"series":"0.22\"","x":38,"y":0.015},{"panel":8,"series":"0.22\"","x":41,"y":0.04},{"panel":8,"series":"0.22\"","x":44,"y":0.084},{"panel":8,"series":"0.22\"","x":47,"y":0.142},{"panel":8,"series":"0.22\"","x":50,"y":0.217},{"panel":8,"series":"0.22\"","x":53,"y":0.293},{"panel":8,"series":"0.22\"","x":56,"y":0.343},{"panel":8,"series":"0.22\"","x":59,"y":0.376},{"panel":8,"series":"0.22\"","x":62,"y":0.393},{"panel":8,"series":"0.22\"","x":66,"y":0.4},{"panel":8,"series":"0.22\"","x":70,"y":0.385},{"panel":8,"series":"0.22\"","x":73,"y":0.35},{"panel":8,"series":"0.22\"","x":76,"y":0.3},{"panel":8,"series":"0.22\"","x":79,"y":0.25},{"panel":8,"series":"0.22\"","x":82,"y":0.192},{"panel":8,"series":"0.22\"","x":85,"y":0.142},{"panel":8,"series":"0.22\"","x":88,"y":0.1},{"panel":8,"series":"0.22\"","x":91,"y":0.067},{"panel":8,"series":"0.22\"","x":94,"y":0.042},{"panel":8,"series":"0.22\"","x":97,"y":0.02},{"panel":8,"series":"0.22\"","x":100,"y":0.01},
{"panel":8,"series":"0.33\"","x":0,"y":0},{"panel":8,"series":"0.33\"","x":52,"y":0.003},{"panel":8,"series":"0.33\"","x":56,"y":0.02},{"panel":8,"series":"0.33\"","x":59,"y":0.05},{"panel":8,"series":"0.33\"","x":62,"y":0.109},{"panel":8,"series":"0.33\"","x":65,"y":0.2},{"panel":8,"series":"0.33\"","x":68,"y":0.3},{"panel":8,"series":"0.33\"","x":71,"y":0.4},{"panel":8,"series":"0.33\"","x":74,"y":0.5},{"panel":8,"series":"0.33\"","x":77,"y":0.577},{"panel":8,"series":"0.33\"","x":80,"y":0.615},{"panel":8,"series":"0.33\"","x":81.4,"y":0.62},{"panel":8,"series":"0.33\"","x":84,"y":0.6},{"panel":8,"series":"0.33\"","x":87,"y":0.518},{"panel":8,"series":"0.33\"","x":90,"y":0.4},{"panel":8,"series":"0.33\"","x":93,"y":0.267},{"panel":8,"series":"0.33\"","x":96,"y":0.159},{"panel":8,"series":"0.33\"","x":98,"y":0.1},{"panel":8,"series":"0.33\"","x":100,"y":0.07},
{"panel":8,"series":"0.44\"","x":0,"y":0},{"panel":8,"series":"0.44\"","x":65,"y":0.003},{"panel":8,"series":"0.44\"","x":68,"y":0.02},{"panel":8,"series":"0.44\"","x":71,"y":0.067},{"panel":8,"series":"0.44\"","x":74,"y":0.142},{"panel":8,"series":"0.44\"","x":77,"y":0.267},{"panel":8,"series":"0.44\"","x":80,"y":0.435},{"panel":8,"series":"0.44\"","x":83,"y":0.62},{"panel":8,"series":"0.44\"","x":85,"y":0.77},{"panel":8,"series":"0.44\"","x":87,"y":0.895},{"panel":8,"series":"0.44\"","x":88.5,"y":0.957},{"panel":8,"series":"0.44\"","x":90,"y":0.936},{"panel":8,"series":"0.44\"","x":92,"y":0.8},{"panel":8,"series":"0.44\"","x":94,"y":0.6},{"panel":8,"series":"0.44\"","x":96,"y":0.385},{"panel":8,"series":"0.44\"","x":98,"y":0.2},{"panel":8,"series":"0.44\"","x":100,"y":0.1},
{"panel":8,"series":"Optimal S/N","x":0,"y":0},{"panel":8,"series":"Optimal S/N","x":14,"y":0.002},{"panel":8,"series":"Optimal S/N","x":18,"y":0.005},{"panel":8,"series":"Optimal S/N","x":22,"y":0.012},{"panel":8,"series":"Optimal S/N","x":26,"y":0.03},{"panel":8,"series":"Optimal S/N","x":29,"y":0.06},{"panel":8,"series":"Optimal S/N","x":32,"y":0.117},{"panel":8,"series":"Optimal S/N","x":35,"y":0.176},{"panel":8,"series":"Optimal S/N","x":38,"y":0.242},{"panel":8,"series":"Optimal S/N","x":41,"y":0.3},{"panel":8,"series":"Optimal S/N","x":44,"y":0.343},{"panel":8,"series":"Optimal S/N","x":47,"y":0.376},{"panel":8,"series":"Optimal S/N","x":51,"y":0.39},{"panel":8,"series":"Optimal S/N","x":55,"y":0.376},{"panel":8,"series":"Optimal S/N","x":58,"y":0.35},{"panel":8,"series":"Optimal S/N","x":61,"y":0.318},{"panel":8,"series":"Optimal S/N","x":64,"y":0.293},{"panel":8,"series":"Optimal S/N","x":67,"y":0.268},{"panel":8,"series":"Optimal S/N","x":70,"y":0.234},{"panel":8,"series":"Optimal S/N","x":73,"y":0.2},{"panel":8,"series":"Optimal S/N","x":76,"y":0.167},{"panel":8,"series":"Optimal S/N","x":79,"y":0.134},{"panel":8,"series":"Optimal S/N","x":82,"y":0.1},{"panel":8,"series":"Optimal S/N","x":85,"y":0.075},{"panel":8,"series":"Optimal S/N","x":88,"y":0.05},{"panel":8,"series":"Optimal S/N","x":91,"y":0.025},{"panel":8,"series":"Optimal S/N","x":94,"y":0.012},{"panel":8,"series":"Optimal S/N","x":97,"y":0.005},{"panel":8,"series":"Optimal S/N","x":100,"y":0.002}
]
},
"concat": [
{"title":"15.0<F146≤16.0","width":285.5,"height":201,
"layer":[
{"data":{"name":"kde"},"transform":[{"filter":"datum.panel == 1 && datum.series != 'Optimal S/N'"}],"mark":{"type":"area","fillOpacity":0.2,"interpolate":"monotone"},
"encoding":{"x":{"field":"x","type":"quantitative","scale":{"domain":[0,100],"nice":false},"axis":{"orient":"bottom","values":[0,20,40,60,80,100],"ticks":false,"labels":false,"domain":true,"title":null}},
"y":{"field":"y","type":"quantitative","stack":null,"scale":{"domain":[0,1],"nice":false},"axis":{"orient":"left","ticks":false,"labels":false,"domain":true,"title":null}},
"color":{"field":"series","type":"nominal","scale":{"domain":["0.11\"","0.22\"","0.33\"","0.44\"","Optimal S/N"],"range":["#1E90FF","#EF4470","#FFA500","#00AA9F","#000000"]},
"legend":{"orient":"none","legendX":48,"legendY":42,"direction":"horizontal","columns":2,"gridAlign":"none","columnPadding":-120.7,"rowPadding":0.5,"symbolSize":0,"symbolStrokeWidth":0,"symbolOpacity":0,"labelOffset":0,"labelFont":"DejaVu Sans Mono","labelFontSize":29.5,"labelFontWeight":"bold","labelLimit":600,"title":null,"padding":0,"encode":{"labels":{"update":{"fill":{"scale":"color","field":"value"}}}}}}}},
{"data":{"name":"kde"},"transform":[{"filter":"datum.panel == 1 && datum.series != 'Optimal S/N'"}],"mark":{"type":"line","strokeWidth":2.5,"interpolate":"monotone"},
"encoding":{"x":{"field":"x","type":"quantitative","scale":{"domain":[0,100],"nice":false},"axis":{"orient":"bottom","values":[0,20,40,60,80,100],"ticks":true,"tickSize":-20,"tickWidth":5,"labels":false,"domain":false,"title":null}},
"y":{"field":"y","type":"quantitative","scale":{"domain":[0,1],"nice":false},"axis":{"orient":"right","ticks":false,"labels":false,"domain":true,"title":null}},
"color":{"field":"series","type":"nominal","legend":null}}},
{"data":{"name":"kde"},"transform":[{"filter":"datum.panel == 1 && datum.series == 'Optimal S/N'"}],"mark":{"type":"line","strokeWidth":8,"interpolate":"monotone","strokeJoin":"round"},
"encoding":{"x":{"field":"x","type":"quantitative","scale":{"domain":[0,100],"nice":false},"axis":{"orient":"bottom","values":[5,10,15,25,30,35,45,50,55,65,70,75,85,90,95],"ticks":true,"tickSize":-13,"tickWidth":3,"labels":false,"domain":false,"title":null}},
"y":{"field":"y","type":"quantitative","scale":{"domain":[0,1],"nice":false},"axis":null},
"color":{"field":"series","type":"nominal","legend":null}}},
{"data":{"name":"stats"},"transform":[{"filter":"datum.panel == 1 && datum.stat == 'median'"}],"mark":{"type":"rule","strokeWidth":2.5,"color":"black"},
"encoding":{"x":{"field":"x","type":"quantitative","scale":{"domain":[0,100],"nice":false},"axis":{"orient":"top","values":[0,20,40,60,80,100],"ticks":true,"tickSize":-20,"tickWidth":5,"labels":false,"domain":true,"title":null}},"y":{"datum":0,"type":"quantitative","scale":{"domain":[0,1],"nice":false},"axis":null},"y2":{"datum":1}}},
{"data":{"name":"stats"},"transform":[{"filter":"datum.panel == 1 && datum.stat == 'mean'"}],"mark":{"type":"rule","strokeWidth":3,"color":"black","strokeDash":[9,5]},
"encoding":{"x":{"field":"x","type":"quantitative","scale":{"domain":[0,100],"nice":false},"axis":{"orient":"top","values":[5,10,15,25,30,35,45,50,55,65,70,75,85,90,95],"ticks":true,"tickSize":-13,"tickWidth":3,"labels":false,"domain":false,"title":null}},"y":{"datum":0,"type":"quantitative","scale":{"domain":[0,1],"nice":false},"axis":null},"y2":{"datum":1}}}
],
"resolve":{"axis":{"x":"independent","y":"independent"}}},
{"title":"16.0<F146≤17.0","width":285.5,"height":201,
"layer":[
{"data":{"name":"kde"},"transform":[{"filter":"datum.panel == 2 && datum.series != 'Optimal S/N'"}],"mark":{"type":"area","fillOpacity":0.2,"interpolate":"monotone"},
"encoding":{"x":{"field":"x","type":"quantitative","scale":{"domain":[0,100],"nice":false},"axis":{"orient":"bottom","values":[0,20,40,60,80,100],"ticks":false,"labels":false,"domain":true,"title":null}},
"y":{"field":"y","type":"quantitative","stack":null,"scale":{"domain":[0,1],"nice":false},"axis":{"orient":"left","ticks":false,"labels":false,"domain":true,"title":null}},
"color":{"field":"series","type":"nominal","legend":null}}},
{"data":{"name":"kde"},"transform":[{"filter":"datum.panel == 2 && datum.series != 'Optimal S/N'"}],"mark":{"type":"line","strokeWidth":2.5,"interpolate":"monotone"},
"encoding":{"x":{"field":"x","type":"quantitative","scale":{"domain":[0,100],"nice":false},"axis":{"orient":"bottom","values":[0,20,40,60,80,100],"ticks":true,"tickSize":-20,"tickWidth":5,"labels":false,"domain":false,"title":null}},
"y":{"field":"y","type":"quantitative","scale":{"domain":[0,1],"nice":false},"axis":{"orient":"right","ticks":false,"labels":false,"domain":true,"title":null}},
"color":{"field":"series","type":"nominal","legend":null}}},
{"data":{"name":"kde"},"transform":[{"filter":"datum.panel == 2 && datum.series == 'Optimal S/N'"}],"mark":{"type":"line","strokeWidth":8,"interpolate":"monotone","strokeJoin":"round"},
"encoding":{"x":{"field":"x","type":"quantitative","scale":{"domain":[0,100],"nice":false},"axis":{"orient":"bottom","values":[5,10,15,25,30,35,45,50,55,65,70,75,85,90,95],"ticks":true,"tickSize":-13,"tickWidth":3,"labels":false,"domain":false,"title":null}},
"y":{"field":"y","type":"quantitative","scale":{"domain":[0,1],"nice":false},"axis":null},
"color":{"field":"series","type":"nominal","legend":null}}},
{"data":{"name":"stats"},"transform":[{"filter":"datum.panel == 2 && datum.stat == 'median'"}],"mark":{"type":"rule","strokeWidth":2.5,"color":"black"},
"encoding":{"x":{"field":"x","type":"quantitative","scale":{"domain":[0,100],"nice":false},"axis":{"orient":"top","values":[0,20,40,60,80,100],"ticks":true,"tickSize":-20,"tickWidth":5,"labels":false,"domain":true,"title":null}},"y":{"datum":0,"type":"quantitative","scale":{"domain":[0,1],"nice":false},"axis":null},"y2":{"datum":1}}},
{"data":{"name":"stats"},"transform":[{"filter":"datum.panel == 2 && datum.stat == 'mean'"}],"mark":{"type":"rule","strokeWidth":3,"color":"black","strokeDash":[9,5]},
"encoding":{"x":{"field":"x","type":"quantitative","scale":{"domain":[0,100],"nice":false},"axis":{"orient":"top","values":[5,10,15,25,30,35,45,50,55,65,70,75,85,90,95],"ticks":true,"tickSize":-13,"tickWidth":3,"labels":false,"domain":false,"title":null}},"y":{"datum":0,"type":"quantitative","scale":{"domain":[0,1],"nice":false},"axis":null},"y2":{"datum":1}}}
],
"resolve":{"axis":{"x":"independent","y":"independent"}}},
{"title":"17.0<F146≤18.0","width":285.5,"height":201,
"layer":[
{"data":{"name":"kde"},"transform":[{"filter":"datum.panel == 3 && datum.series != 'Optimal S/N'"}],"mark":{"type":"area","fillOpacity":0.2,"interpolate":"monotone"},
"encoding":{"x":{"field":"x","type":"quantitative","scale":{"domain":[0,100],"nice":false},"axis":{"orient":"bottom","values":[0,20,40,60,80,100],"ticks":false,"labels":false,"domain":true,"title":null}},
"y":{"field":"y","type":"quantitative","stack":null,"scale":{"domain":[0,1],"nice":false},"axis":{"orient":"left","ticks":false,"labels":false,"domain":true,"title":null}},
"color":{"field":"series","type":"nominal","legend":null}}},
{"data":{"name":"kde"},"transform":[{"filter":"datum.panel == 3 && datum.series != 'Optimal S/N'"}],"mark":{"type":"line","strokeWidth":2.5,"interpolate":"monotone"},
"encoding":{"x":{"field":"x","type":"quantitative","scale":{"domain":[0,100],"nice":false},"axis":{"orient":"bottom","values":[0,20,40,60,80,100],"ticks":true,"tickSize":-20,"tickWidth":5,"labels":false,"domain":false,"title":null}},
"y":{"field":"y","type":"quantitative","scale":{"domain":[0,1],"nice":false},"axis":{"orient":"right","ticks":false,"labels":false,"domain":true,"title":null}},
"color":{"field":"series","type":"nominal","legend":null}}},
{"data":{"name":"kde"},"transform":[{"filter":"datum.panel == 3 && datum.series == 'Optimal S/N'"}],"mark":{"type":"line","strokeWidth":8,"interpolate":"monotone","strokeJoin":"round"},
"encoding":{"x":{"field":"x","type":"quantitative","scale":{"domain":[0,100],"nice":false},"axis":{"orient":"bottom","values":[5,10,15,25,30,35,45,50,55,65,70,75,85,90,95],"ticks":true,"tickSize":-13,"tickWidth":3,"labels":false,"domain":false,"title":null}},
"y":{"field":"y","type":"quantitative","scale":{"domain":[0,1],"nice":false},"axis":null},
"color":{"field":"series","type":"nominal","legend":null}}},
{"data":{"name":"stats"},"transform":[{"filter":"datum.panel == 3 && datum.stat == 'median'"}],"mark":{"type":"rule","strokeWidth":2.5,"color":"black"},
"encoding":{"x":{"field":"x","type":"quantitative","scale":{"domain":[0,100],"nice":false},"axis":{"orient":"top","values":[0,20,40,60,80,100],"ticks":true,"tickSize":-20,"tickWidth":5,"labels":false,"domain":true,"title":null}},"y":{"datum":0,"type":"quantitative","scale":{"domain":[0,1],"nice":false},"axis":null},"y2":{"datum":1}}},
{"data":{"name":"stats"},"transform":[{"filter":"datum.panel == 3 && datum.stat == 'mean'"}],"mark":{"type":"rule","strokeWidth":3,"color":"black","strokeDash":[9,5]},
"encoding":{"x":{"field":"x","type":"quantitative","scale":{"domain":[0,100],"nice":false},"axis":{"orient":"top","values":[5,10,15,25,30,35,45,50,55,65,70,75,85,90,95],"ticks":true,"tickSize":-13,"tickWidth":3,"labels":false,"domain":false,"title":null}},"y":{"datum":0,"type":"quantitative","scale":{"domain":[0,1],"nice":false},"axis":null},"y2":{"datum":1}}}
],
"resolve":{"axis":{"x":"independent","y":"independent"}}},
{"title":"18.0<F146≤19.0","width":285.5,"height":201,
"layer":[
{"data":{"name":"kde"},"transform":[{"filter":"datum.panel == 4 && datum.series != 'Optimal S/N'"}],"mark":{"type":"area","fillOpacity":0.2,"interpolate":"monotone"},
"encoding":{"x":{"field":"x","type":"quantitative","scale":{"domain":[0,100],"nice":false},"axis":{"orient":"bottom","values":[0,20,40,60,80,100],"ticks":false,"labels":false,"domain":true,"title":null}},
"y":{"field":"y","type":"quantitative","stack":null,"scale":{"domain":[0,1],"nice":false},"axis":{"orient":"left","ticks":false,"labels":false,"domain":true,"title":null}},
"color":{"field":"series","type":"nominal","legend":null}}},
{"data":{"name":"kde"},"transform":[{"filter":"datum.panel == 4 && datum.series != 'Optimal S/N'"}],"mark":{"type":"line","strokeWidth":2.5,"interpolate":"monotone"},
"encoding":{"x":{"field":"x","type":"quantitative","scale":{"domain":[0,100],"nice":false},"axis":{"orient":"bottom","values":[0,20,40,60,80,100],"ticks":true,"tickSize":-20,"tickWidth":5,"labels":false,"domain":false,"title":null}},
"y":{"field":"y","type":"quantitative","scale":{"domain":[0,1],"nice":false},"axis":{"orient":"right","ticks":false,"labels":false,"domain":true,"title":null}},
"color":{"field":"series","type":"nominal","legend":null}}},
{"data":{"name":"kde"},"transform":[{"filter":"datum.panel == 4 && datum.series == 'Optimal S/N'"}],"mark":{"type":"line","strokeWidth":8,"interpolate":"monotone","strokeJoin":"round"},
"encoding":{"x":{"field":"x","type":"quantitative","scale":{"domain":[0,100],"nice":false},"axis":{"orient":"bottom","values":[5,10,15,25,30,35,45,50,55,65,70,75,85,90,95],"ticks":true,"tickSize":-13,"tickWidth":3,"labels":false,"domain":false,"title":null}},
"y":{"field":"y","type":"quantitative","scale":{"domain":[0,1],"nice":false},"axis":null},
"color":{"field":"series","type":"nominal","legend":null}}},
{"data":{"name":"stats"},"transform":[{"filter":"datum.panel == 4 && datum.stat == 'median'"}],"mark":{"type":"rule","strokeWidth":2.5,"color":"black"},
"encoding":{"x":{"field":"x","type":"quantitative","scale":{"domain":[0,100],"nice":false},"axis":{"orient":"top","values":[0,20,40,60,80,100],"ticks":true,"tickSize":-20,"tickWidth":5,"labels":false,"domain":true,"title":null}},"y":{"datum":0,"type":"quantitative","scale":{"domain":[0,1],"nice":false},"axis":null},"y2":{"datum":1}}},
{"data":{"name":"stats"},"transform":[{"filter":"datum.panel == 4 && datum.stat == 'mean'"}],"mark":{"type":"rule","strokeWidth":3,"color":"black","strokeDash":[9,5]},
"encoding":{"x":{"field":"x","type":"quantitative","scale":{"domain":[0,100],"nice":false},"axis":{"orient":"top","values":[5,10,15,25,30,35,45,50,55,65,70,75,85,90,95],"ticks":true,"tickSize":-13,"tickWidth":3,"labels":false,"domain":false,"title":null}},"y":{"datum":0,"type":"quantitative","scale":{"domain":[0,1],"nice":false},"axis":null},"y2":{"datum":1}}}
],
"resolve":{"axis":{"x":"independent","y":"independent"}}},
{"title":"19.0<F146≤19.5","width":285.5,"height":199,
"layer":[
{"data":{"name":"kde"},"transform":[{"filter":"datum.panel == 5 && datum.series != 'Optimal S/N'"}],"mark":{"type":"area","fillOpacity":0.2,"interpolate":"monotone"},
"encoding":{"x":{"field":"x","type":"quantitative","scale":{"domain":[0,100],"nice":false},"axis":{"orient":"bottom","values":[0,20,40,60,80,100],"ticks":false,"labels":true,"labelPadding":15,"domain":true,"title":"f","titleX":-3.6,"titleY":77,"titleAlign":"left","titleBaseline":"alphabetic","titleFontSize":29}},
"y":{"field":"y","type":"quantitative","stack":null,"scale":{"domain":[0,1],"nice":false},"axis":{"orient":"left","ticks":false,"labels":false,"domain":true,"title":"[%]","titleAngle":0,"titleX":231.5,"titleY":276,"titleAlign":"left","titleBaseline":"alphabetic","titleFontSize":29}},
"color":{"field":"series","type":"nominal","legend":null}}},
{"data":{"name":"kde"},"transform":[{"filter":"datum.panel == 5 && datum.series != 'Optimal S/N'"}],"mark":{"type":"line","strokeWidth":2.5,"interpolate":"monotone"},
"encoding":{"x":{"field":"x","type":"quantitative","scale":{"domain":[0,100],"nice":false},"axis":{"orient":"bottom","values":[0,20,40,60,80,100],"ticks":true,"tickSize":-20,"tickWidth":5,"labels":false,"domain":false,"title":"neighbor","titleX":8.6,"titleY":83,"titleAlign":"left","titleBaseline":"alphabetic","titleFontSize":24.5}},
"y":{"field":"y","type":"quantitative","scale":{"domain":[0,1],"nice":false},"axis":{"orient":"right","ticks":false,"labels":false,"domain":true,"title":null}},
"color":{"field":"series","type":"nominal","legend":null}}},
{"data":{"name":"kde"},"transform":[{"filter":"datum.panel == 5 && datum.series == 'Optimal S/N'"}],"mark":{"type":"line","strokeWidth":8,"interpolate":"monotone","strokeJoin":"round"},
"encoding":{"x":{"field":"x","type":"quantitative","scale":{"domain":[0,100],"nice":false},"axis":{"orient":"bottom","values":[5,10,15,25,30,35,45,50,55,65,70,75,85,90,95],"ticks":true,"tickSize":-13,"tickWidth":3,"labels":false,"domain":false,"title":"/","titleX":133.5,"titleY":77,"titleAlign":"left","titleBaseline":"alphabetic","titleFontSize":29}},
"y":{"field":"y","type":"quantitative","scale":{"domain":[0,1],"nice":false},"axis":null},
"color":{"field":"series","type":"nominal","legend":null}}},
{"data":{"name":"stats"},"transform":[{"filter":"datum.panel == 5 && datum.stat == 'median'"}],"mark":{"type":"rule","strokeWidth":2.5,"color":"black"},
"encoding":{"x":{"field":"x","type":"quantitative","scale":{"domain":[0,100],"nice":false},"axis":{"orient":"top","values":[0,20,40,60,80,100],"ticks":true,"tickSize":-20,"tickWidth":5,"labels":false,"domain":true,"title":"f","titleX":156.4,"titleY":276,"titleAlign":"left","titleBaseline":"alphabetic","titleFontSize":29}},"y":{"datum":0,"type":"quantitative","scale":{"domain":[0,1],"nice":false},"axis":null},"y2":{"datum":1}}},
{"data":{"name":"stats"},"transform":[{"filter":"datum.panel == 5 && datum.stat == 'mean'"}],"mark":{"type":"rule","strokeWidth":3,"color":"black","strokeDash":[9,5]},
"encoding":{"x":{"field":"x","type":"quantitative","scale":{"domain":[0,100],"nice":false},"axis":{"orient":"top","values":[5,10,15,25,30,35,45,50,55,65,70,75,85,90,95],"ticks":true,"tickSize":-13,"tickWidth":3,"labels":false,"domain":false,"title":"tot","titleX":177.4,"titleY":282,"titleAlign":"left","titleBaseline":"alphabetic","titleFontSize":24.5}},"y":{"datum":0,"type":"quantitative","scale":{"domain":[0,1],"nice":false},"axis":null},"y2":{"datum":1}}}
],
"resolve":{"axis":{"x":"independent","y":"independent"}}},
{"title":"19.5<F146≤20.0","width":285.5,"height":199,
"layer":[
{"data":{"name":"kde"},"transform":[{"filter":"datum.panel == 6 && datum.series != 'Optimal S/N'"}],"mark":{"type":"area","fillOpacity":0.2,"interpolate":"monotone"},
"encoding":{"x":{"field":"x","type":"quantitative","scale":{"domain":[0,100],"nice":false},"axis":{"orient":"bottom","values":[0,20,40,60,80,100],"ticks":false,"labels":true,"labelPadding":15,"domain":true,"title":"f","titleX":-3.6,"titleY":77,"titleAlign":"left","titleBaseline":"alphabetic","titleFontSize":29}},
"y":{"field":"y","type":"quantitative","stack":null,"scale":{"domain":[0,1],"nice":false},"axis":{"orient":"left","ticks":false,"labels":false,"domain":true,"title":"[%]","titleAngle":0,"titleX":231.5,"titleY":276,"titleAlign":"left","titleBaseline":"alphabetic","titleFontSize":29}},
"color":{"field":"series","type":"nominal","legend":null}}},
{"data":{"name":"kde"},"transform":[{"filter":"datum.panel == 6 && datum.series != 'Optimal S/N'"}],"mark":{"type":"line","strokeWidth":2.5,"interpolate":"monotone"},
"encoding":{"x":{"field":"x","type":"quantitative","scale":{"domain":[0,100],"nice":false},"axis":{"orient":"bottom","values":[0,20,40,60,80,100],"ticks":true,"tickSize":-20,"tickWidth":5,"labels":false,"domain":false,"title":"neighbor","titleX":8.6,"titleY":83,"titleAlign":"left","titleBaseline":"alphabetic","titleFontSize":24.5}},
"y":{"field":"y","type":"quantitative","scale":{"domain":[0,1],"nice":false},"axis":{"orient":"right","ticks":false,"labels":false,"domain":true,"title":null}},
"color":{"field":"series","type":"nominal","legend":null}}},
{"data":{"name":"kde"},"transform":[{"filter":"datum.panel == 6 && datum.series == 'Optimal S/N'"}],"mark":{"type":"line","strokeWidth":8,"interpolate":"monotone","strokeJoin":"round"},
"encoding":{"x":{"field":"x","type":"quantitative","scale":{"domain":[0,100],"nice":false},"axis":{"orient":"bottom","values":[5,10,15,25,30,35,45,50,55,65,70,75,85,90,95],"ticks":true,"tickSize":-13,"tickWidth":3,"labels":false,"domain":false,"title":"/","titleX":133.5,"titleY":77,"titleAlign":"left","titleBaseline":"alphabetic","titleFontSize":29}},
"y":{"field":"y","type":"quantitative","scale":{"domain":[0,1],"nice":false},"axis":null},
"color":{"field":"series","type":"nominal","legend":null}}},
{"data":{"name":"stats"},"transform":[{"filter":"datum.panel == 6 && datum.stat == 'median'"}],"mark":{"type":"rule","strokeWidth":2.5,"color":"black"},
"encoding":{"x":{"field":"x","type":"quantitative","scale":{"domain":[0,100],"nice":false},"axis":{"orient":"top","values":[0,20,40,60,80,100],"ticks":true,"tickSize":-20,"tickWidth":5,"labels":false,"domain":true,"title":"f","titleX":156.4,"titleY":276,"titleAlign":"left","titleBaseline":"alphabetic","titleFontSize":29}},"y":{"datum":0,"type":"quantitative","scale":{"domain":[0,1],"nice":false},"axis":null},"y2":{"datum":1}}},
{"data":{"name":"stats"},"transform":[{"filter":"datum.panel == 6 && datum.stat == 'mean'"}],"mark":{"type":"rule","strokeWidth":3,"color":"black","strokeDash":[9,5]},
"encoding":{"x":{"field":"x","type":"quantitative","scale":{"domain":[0,100],"nice":false},"axis":{"orient":"top","values":[5,10,15,25,30,35,45,50,55,65,70,75,85,90,95],"ticks":true,"tickSize":-13,"tickWidth":3,"labels":false,"domain":false,"title":"tot","titleX":177.4,"titleY":282,"titleAlign":"left","titleBaseline":"alphabetic","titleFontSize":24.5}},"y":{"datum":0,"type":"quantitative","scale":{"domain":[0,1],"nice":false},"axis":null},"y2":{"datum":1}}}
],
"resolve":{"axis":{"x":"independent","y":"independent"}}},
{"title":"20.0<F146≤20.5","width":285.5,"height":199,
"layer":[
{"data":{"name":"kde"},"transform":[{"filter":"datum.panel == 7 && datum.series != 'Optimal S/N'"}],"mark":{"type":"area","fillOpacity":0.2,"interpolate":"monotone"},
"encoding":{"x":{"field":"x","type":"quantitative","scale":{"domain":[0,100],"nice":false},"axis":{"orient":"bottom","values":[0,20,40,60,80,100],"ticks":false,"labels":true,"labelPadding":15,"domain":true,"title":"f","titleX":-3.6,"titleY":77,"titleAlign":"left","titleBaseline":"alphabetic","titleFontSize":29}},
"y":{"field":"y","type":"quantitative","stack":null,"scale":{"domain":[0,1],"nice":false},"axis":{"orient":"left","ticks":false,"labels":false,"domain":true,"title":"[%]","titleAngle":0,"titleX":231.5,"titleY":276,"titleAlign":"left","titleBaseline":"alphabetic","titleFontSize":29}},
"color":{"field":"series","type":"nominal","legend":null}}},
{"data":{"name":"kde"},"transform":[{"filter":"datum.panel == 7 && datum.series != 'Optimal S/N'"}],"mark":{"type":"line","strokeWidth":2.5,"interpolate":"monotone"},
"encoding":{"x":{"field":"x","type":"quantitative","scale":{"domain":[0,100],"nice":false},"axis":{"orient":"bottom","values":[0,20,40,60,80,100],"ticks":true,"tickSize":-20,"tickWidth":5,"labels":false,"domain":false,"title":"neighbor","titleX":8.6,"titleY":83,"titleAlign":"left","titleBaseline":"alphabetic","titleFontSize":24.5}},
"y":{"field":"y","type":"quantitative","scale":{"domain":[0,1],"nice":false},"axis":{"orient":"right","ticks":false,"labels":false,"domain":true,"title":null}},
"color":{"field":"series","type":"nominal","legend":null}}},
{"data":{"name":"kde"},"transform":[{"filter":"datum.panel == 7 && datum.series == 'Optimal S/N'"}],"mark":{"type":"line","strokeWidth":8,"interpolate":"monotone","strokeJoin":"round"},
"encoding":{"x":{"field":"x","type":"quantitative","scale":{"domain":[0,100],"nice":false},"axis":{"orient":"bottom","values":[5,10,15,25,30,35,45,50,55,65,70,75,85,90,95],"ticks":true,"tickSize":-13,"tickWidth":3,"labels":false,"domain":false,"title":"/","titleX":133.5,"titleY":77,"titleAlign":"left","titleBaseline":"alphabetic","titleFontSize":29}},
"y":{"field":"y","type":"quantitative","scale":{"domain":[0,1],"nice":false},"axis":null},
"color":{"field":"series","type":"nominal","legend":null}}},
{"data":{"name":"stats"},"transform":[{"filter":"datum.panel == 7 && datum.stat == 'median'"}],"mark":{"type":"rule","strokeWidth":2.5,"color":"black"},
"encoding":{"x":{"field":"x","type":"quantitative","scale":{"domain":[0,100],"nice":false},"axis":{"orient":"top","values":[0,20,40,60,80,100],"ticks":true,"tickSize":-20,"tickWidth":5,"labels":false,"domain":true,"title":"f","titleX":156.4,"titleY":276,"titleAlign":"left","titleBaseline":"alphabetic","titleFontSize":29}},"y":{"datum":0,"type":"quantitative","scale":{"domain":[0,1],"nice":false},"axis":null},"y2":{"datum":1}}},
{"data":{"name":"stats"},"transform":[{"filter":"datum.panel == 7 && datum.stat == 'mean'"}],"mark":{"type":"rule","strokeWidth":3,"color":"black","strokeDash":[9,5]},
"encoding":{"x":{"field":"x","type":"quantitative","scale":{"domain":[0,100],"nice":false},"axis":{"orient":"top","values":[5,10,15,25,30,35,45,50,55,65,70,75,85,90,95],"ticks":true,"tickSize":-13,"tickWidth":3,"labels":false,"domain":false,"title":"tot","titleX":177.4,"titleY":282,"titleAlign":"left","titleBaseline":"alphabetic","titleFontSize":24.5}},"y":{"datum":0,"type":"quantitative","scale":{"domain":[0,1],"nice":false},"axis":null},"y2":{"datum":1}}}
],
"resolve":{"axis":{"x":"independent","y":"independent"}}},
{"title":"20.5<F146≤21.0","width":285.5,"height":199,
"layer":[
{"data":{"name":"kde"},"transform":[{"filter":"datum.panel == 8 && datum.series != 'Optimal S/N'"}],"mark":{"type":"area","fillOpacity":0.2,"interpolate":"monotone"},
"encoding":{"x":{"field":"x","type":"quantitative","scale":{"domain":[0,100],"nice":false},"axis":{"orient":"bottom","values":[0,20,40,60,80,100],"ticks":false,"labels":true,"labelPadding":15,"domain":true,"title":"f","titleX":-3.6,"titleY":77,"titleAlign":"left","titleBaseline":"alphabetic","titleFontSize":29}},
"y":{"field":"y","type":"quantitative","stack":null,"scale":{"domain":[0,1],"nice":false},"axis":{"orient":"left","ticks":false,"labels":false,"domain":true,"title":"[%]","titleAngle":0,"titleX":231.5,"titleY":276,"titleAlign":"left","titleBaseline":"alphabetic","titleFontSize":29}},
"color":{"field":"series","type":"nominal","legend":null}}},
{"data":{"name":"kde"},"transform":[{"filter":"datum.panel == 8 && datum.series != 'Optimal S/N'"}],"mark":{"type":"line","strokeWidth":2.5,"interpolate":"monotone"},
"encoding":{"x":{"field":"x","type":"quantitative","scale":{"domain":[0,100],"nice":false},"axis":{"orient":"bottom","values":[0,20,40,60,80,100],"ticks":true,"tickSize":-20,"tickWidth":5,"labels":false,"domain":false,"title":"neighbor","titleX":8.6,"titleY":83,"titleAlign":"left","titleBaseline":"alphabetic","titleFontSize":24.5}},
"y":{"field":"y","type":"quantitative","scale":{"domain":[0,1],"nice":false},"axis":{"orient":"right","ticks":false,"labels":false,"domain":true,"title":null}},
"color":{"field":"series","type":"nominal","legend":null}}},
{"data":{"name":"kde"},"transform":[{"filter":"datum.panel == 8 && datum.series == 'Optimal S/N'"}],"mark":{"type":"line","strokeWidth":8,"interpolate":"monotone","strokeJoin":"round"},
"encoding":{"x":{"field":"x","type":"quantitative","scale":{"domain":[0,100],"nice":false},"axis":{"orient":"bottom","values":[5,10,15,25,30,35,45,50,55,65,70,75,85,90,95],"ticks":true,"tickSize":-13,"tickWidth":3,"labels":false,"domain":false,"title":"/","titleX":133.5,"titleY":77,"titleAlign":"left","titleBaseline":"alphabetic","titleFontSize":29}},
"y":{"field":"y","type":"quantitative","scale":{"domain":[0,1],"nice":false},"axis":null},
"color":{"field":"series","type":"nominal","legend":null}}},
{"data":{"name":"stats"},"transform":[{"filter":"datum.panel == 8 && datum.stat == 'median'"}],"mark":{"type":"rule","strokeWidth":2.5,"color":"black"},
"encoding":{"x":{"field":"x","type":"quantitative","scale":{"domain":[0,100],"nice":false},"axis":{"orient":"top","values":[0,20,40,60,80,100],"ticks":true,"tickSize":-20,"tickWidth":5,"labels":false,"domain":true,"title":"f","titleX":156.4,"titleY":276,"titleAlign":"left","titleBaseline":"alphabetic","titleFontSize":29}},"y":{"datum":0,"type":"quantitative","scale":{"domain":[0,1],"nice":false},"axis":null},"y2":{"datum":1}}},
{"data":{"name":"stats"},"transform":[{"filter":"datum.panel == 8 && datum.stat == 'mean'"}],"mark":{"type":"rule","strokeWidth":3,"color":"black","strokeDash":[9,5]},
"encoding":{"x":{"field":"x","type":"quantitative","scale":{"domain":[0,100],"nice":false},"axis":{"orient":"top","values":[5,10,15,25,30,35,45,50,55,65,70,75,85,90,95],"ticks":true,"tickSize":-13,"tickWidth":3,"labels":false,"domain":false,"title":"tot","titleX":177.4,"titleY":282,"titleAlign":"left","titleBaseline":"alphabetic","titleFontSize":24.5}},"y":{"datum":0,"type":"quantitative","scale":{"domain":[0,1],"nice":false},"axis":null},"y2":{"datum":1}}}
],
"resolve":{"axis":{"x":"independent","y":"independent"}}}
],
"config": {
"font": "DejaVu Sans Mono",
"background": "white",
"view": {"stroke": null},
"axis": {"domainColor":"black","domainWidth":9,"domainCap":"square","tickColor":"black","labelColor":"black","labelFont":"DejaVu Sans Mono","labelFontSize":28,"labelFontWeight":"bold","labelFlush":false,"labelOverlap":false,"labelBound":false,"titleFont":"DejaVu Sans Mono","titleFontWeight":"bold","titleColor":"black","titlePadding":0,"grid":false,"zindex":1},
"title": {"font":"DejaVu Sans Mono","fontSize":30,"fontWeight":"bold","color":"black","offset":11}
}
}
